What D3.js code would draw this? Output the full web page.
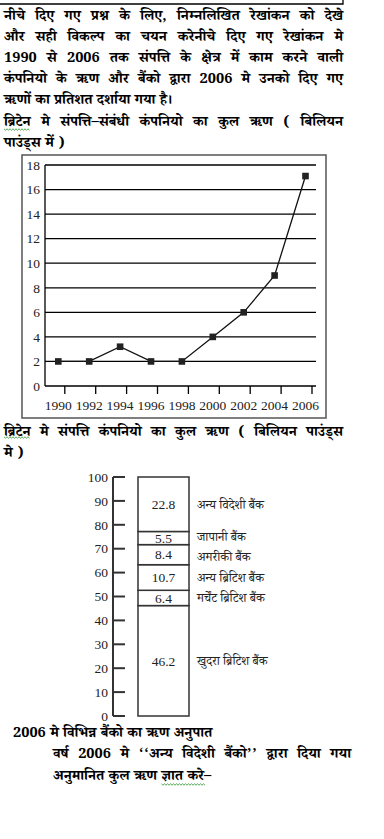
<!DOCTYPE html>
<html><head><meta charset="utf-8">
<script src="https://cdn.jsdelivr.net/npm/d3@7"></script>
<style>
html,body{margin:0;padding:0;background:#fff;}
svg{display:block;}
.dev{font-family:"Noto Serif Devanagari","Noto Sans Devanagari","Lohit Devanagari","Mangal","Liberation Serif",serif;}
.num{font-family:"Liberation Serif","Times New Roman",serif;}
</style>
</head><body>
<svg id="c" width="384" height="839"></svg>
<script>
// ---------- data ----------
const introLines = [
  "नीचे दिए गए प्रश्न के लिए, निम्नलिखित रेखांकन को देखे",
  "और सही विकल्प का चयन करेनीचे दिए गए रेखांकन मे",
  "1990 से 2006 तक संपत्ति के क्षेत्र में काम करने वाली",
  "कंपनियो के ऋण और बैंको द्वारा 2006 मे उनको दिए गए",
  "ऋणों का प्रतिशत दर्शाया गया है।",
  "ब्रिटेन मे संपत्ति–संबंधी कंपनियो का कुल ऋण ( बिलियन",
  "पाउंड्स में )"
];
const introJustify = [true,true,true,true,false,true,false];
const years = [1990,1992,1994,1996,1998,2000,2002,2004,2006];
const debt = [2,2,3.2,2,2,4,6,9,17.1];
const yTicks1 = [0,2,4,6,8,10,12,14,16,18];

const title2Lines = ["ब्रिटेन मे संपत्ति कंपनियो का कुल ऋण ( बिलियन पाउंड्स","मे )"];
const title2Justify = [true,false];
const banks = ["खुदरा ब्रिटिश बैंक","मर्चेंट ब्रिटिश बैंक","अन्य ब्रिटिश बैंक","अमरीकी बैंक","जापानी बैंक","अन्य विदेशी बैंक"];
const shares = [46.2,6.4,10.7,8.4,5.5,22.8];
const yTicks2 = [0,10,20,30,40,50,60,70,80,90,100];

const footLines = [
  "2006 मे विभिन्न बैंको का ऋण अनुपात",
  "वर्ष 2006 मे ‘‘अन्य विदेशी बैंको’’ द्वारा दिया गया",
  "अनुमानित कुल ऋण ज्ञात  करे–"
];

// ---------- helpers ----------
const svg = d3.select("#c");
function textLine(str, x, y, width, justify, size, weight){
  const words = str.split(/ +/);
  const g = svg.append("g");
  const els = words.map(w => g.append("text").attr("class","dev").attr("y",y)
      .attr("font-size",size).attr("font-weight",weight).attr("fill","#000").text(w));
  const widths = els.map(e => e.node().getComputedTextLength());
  const total = d3.sum(widths);
  let gap = size*0.3;
  if (justify && words.length>1) gap = (width-total)/(words.length-1);
  let cx = x; const boxes=[];
  els.forEach((e,i)=>{ e.attr("x",cx); boxes.push([cx,widths[i]]); cx += widths[i]+gap; });
  return boxes;
}
function squiggle(x0,x1,y){
  const pts=[]; for(let x=x0,i=0;x<=x1;x+=1.5,i++) pts.push([x, y+(i%2?1.2:-0.2)]);
  svg.append("path").attr("d",d3.line()(pts)).attr("fill","none").attr("stroke","#3a9c3a").attr("stroke-width",0.9);
}

// top frame remnant
svg.append("path").attr("d","M0,4H343V0").attr("fill","none").attr("stroke","#000").attr("stroke-width",1.3);

// intro paragraph
let firstBox;
introLines.forEach((l,i)=>{
  const b = textLine(l, 4, 20+21.1*i, 339, introJustify[i], 14.5, "bold");
  if(i===5) firstBox=b[0];
});
squiggle(firstBox[0], firstBox[0]+firstBox[1], 129);

// ---------- line chart ----------
svg.append("rect").attr("x",22).attr("y",155).attr("width",304).attr("height",263)
  .attr("fill","none").attr("stroke","#555").attr("stroke-width",1.5);
const y1 = d3.scaleLinear().domain([0,18]).range([386,165]);
const x1 = d3.scaleLinear().domain([1990,2006]).range([58.3,305.5]);
const gx0=45, gx1=316;
svg.append("g").selectAll("line").data(yTicks1).join("line")
  .attr("x1",gx0).attr("x2",gx1).attr("y1",d=>y1(d)).attr("y2",d=>y1(d))
  .attr("stroke","#000").attr("stroke-width",1.3);
svg.append("line").attr("x1",gx0).attr("x2",gx0).attr("y1",y1(18)).attr("y2",y1(0)).attr("stroke","#000").attr("stroke-width",1.3);
svg.append("g").selectAll("text").data(yTicks1).join("text").attr("class","num")
  .attr("x",40).attr("y",d=>y1(d)).attr("dy","0.35em").attr("text-anchor","end")
  .attr("font-size",13.5).attr("fill","#222").text(d=>d);
svg.append("g").selectAll("line").data(years).join("line")
  .attr("x1",d=>x1(d)+6.5).attr("x2",d=>x1(d)+6.5).attr("y1",y1(0)).attr("y2",y1(0)+8)
  .attr("stroke","#000").attr("stroke-width",1.3);
svg.append("g").selectAll("text").data(years).join("text").attr("class","num")
  .attr("x",d=>x1(d)).attr("y",410).attr("text-anchor","middle")
  .attr("font-size",13.5).attr("fill","#222").text(d=>d);
const pts = years.map((d,i)=>[x1(d),y1(debt[i])]);
svg.append("path").attr("d",d3.line()(pts)).attr("fill","none").attr("stroke","#111").attr("stroke-width",1.3);
svg.append("g").selectAll("rect").data(pts).join("rect")
  .attr("x",d=>d[0]-3.3).attr("y",d=>d[1]-3.3).attr("width",6.6).attr("height",6.6).attr("fill","#222");

// ---------- title 2 ----------
let t2Box;
title2Lines.forEach((l,i)=>{
  const b = textLine(l, 4, 436+20.5*i, 339, title2Justify[i], 14.5, "bold");
  if(i===0) t2Box=b[0];
});
squiggle(t2Box[0], t2Box[0]+t2Box[1], 437);

// ---------- stacked bar ----------
const y2 = d3.scaleLinear().domain([0,100]).range([716,477]);
svg.append("line").attr("x1",113).attr("x2",113).attr("y1",y2(100)).attr("y2",y2(0)).attr("stroke","#333").attr("stroke-width",2);
svg.append("g").selectAll("line").data(yTicks2).join("line")
  .attr("x1",113).attr("x2",125).attr("y1",d=>y2(d)).attr("y2",d=>y2(d)).attr("stroke","#333").attr("stroke-width",2);
svg.append("g").selectAll("text").data(yTicks2).join("text").attr("class","num")
  .attr("x",108).attr("y",d=>y2(d)).attr("dy","0.35em").attr("text-anchor","end")
  .attr("font-size",13.5).attr("fill","#222").text(d=>d);
let acc=0;
const segs = shares.map((v,i)=>{const s={v,name:banks[i],lo:acc,hi:acc+v}; acc+=v; return s;});
segs.forEach(s=>{ s.cy = y2((s.lo+s.hi)/2); s.ly = s.cy; });
// simple label collision relaxation for the bank names
const minGap = 20;
for(let it=0; it<30; it++){
  const ord = segs.slice().sort((a,b)=>a.ly-b.ly);
  for(let k=1;k<ord.length;k++){
    const d = ord[k].ly-ord[k-1].ly;
    if(d<minGap){ const m=(minGap-d)/2; ord[k].ly+=m; ord[k-1].ly-=m; }
  }
}
svg.append("g").selectAll("rect").data(segs).join("rect")
  .attr("x",138).attr("width",51).attr("y",d=>y2(d.hi)).attr("height",d=>y2(d.lo)-y2(d.hi))
  .attr("fill","#fff").attr("stroke","#333").attr("stroke-width",1.5);
svg.append("g").selectAll("text").data(segs).join("text").attr("class","num")
  .attr("x",163.5).attr("y",d=>d.cy).attr("dy","0.35em").attr("text-anchor","middle")
  .attr("font-size",13.5).attr("fill","#222").text(d=>d.v.toFixed(1));
svg.append("g").selectAll("text").data(segs).join("text").attr("class","dev")
  .attr("x",197).attr("y",d=>d.ly).attr("dy","0.35em")
  .attr("font-size",12.5).attr("fill","#222").text(d=>d.name);

// ---------- footer ----------
textLine(footLines[0], 13, 737, 0, false, 14.5, "bold");
textLine(footLines[1], 53, 758, 298, true, 14.5, "bold");
const fb = textLine(footLines[2], 53, 780, 0, false, 14.5, "bold");
squiggle(fb[3][0], fb[4][0]+fb[4][1]-6, 784);
</script>
</body></html>
